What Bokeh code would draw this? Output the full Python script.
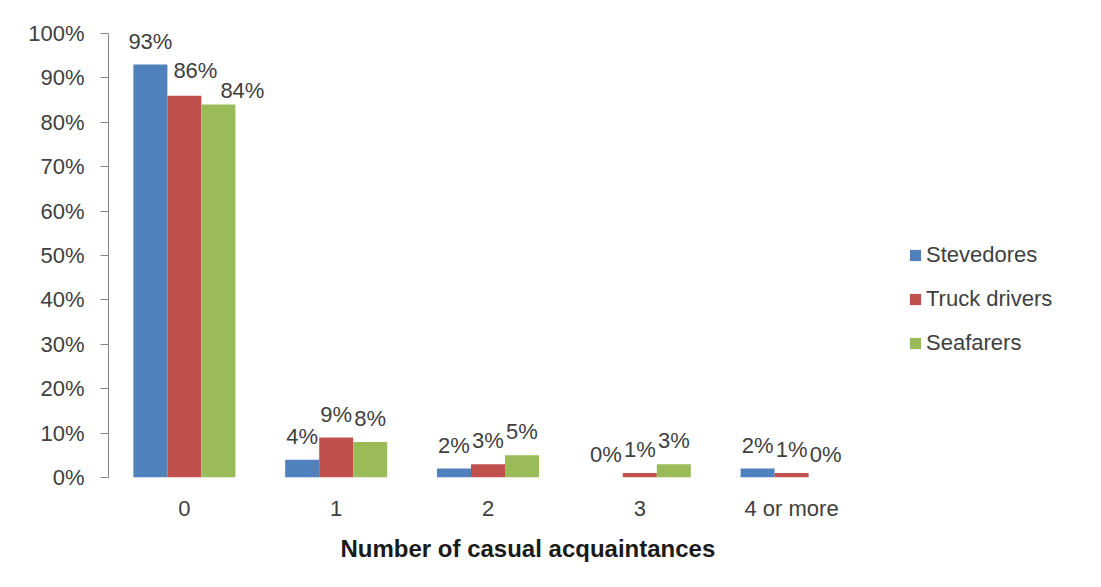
from bokeh.plotting import figure
from bokeh.models import ColumnDataSource, LabelSet, Legend, LegendItem, Range1d, FixedTicker, Title
from bokeh.core.properties import value
from bokeh.embed import file_html
from bokeh.resources import INLINE

categories = ["0", "1", "2", "3", "4 or more"]
series_names = ["Stevedores", "Truck drivers", "Seafarers"]
stevedores = [93, 4, 2, 0, 2]
truck_drivers = [86, 9, 3, 1, 1]
seafarers = [84, 8, 5, 3, 0]
y_ticks = [0, 10, 20, 30, 40, 50, 60, 70, 80, 90, 100]
colors = ["#4F81BD", "#C0504D", "#9BBB59"]

FONT = "Liberation Sans"
TXT = "#404040"
FS = "22px"
bw = 0.224
unit_px = 151.8
frame_w = 985

p = figure(frame_width=frame_w, frame_height=444, output_backend="svg", toolbar_location=None,
           x_range=Range1d(-0.5, -0.5 + frame_w / unit_px), y_range=Range1d(0, 100),
           min_border_left=108, min_border_right=0, min_border_top=33, min_border_bottom=34)
p.xgrid.visible = False
p.ygrid.visible = False
p.outline_line_color = None
p.background_fill_color = "white"
p.border_fill_color = "white"

# x axis
p.xaxis.ticker = FixedTicker(ticks=list(range(len(categories))))
p.xaxis.major_label_overrides = {i: c for i, c in enumerate(categories)}
p.xaxis.axis_line_color = None
p.xaxis.major_tick_line_color = None
p.xaxis.minor_tick_line_color = None
p.xaxis.major_label_standoff = 12
p.xaxis.major_label_text_font = FONT
p.xaxis.major_label_text_font_size = FS
p.xaxis.major_label_text_color = TXT

# y axis
p.yaxis.ticker = FixedTicker(ticks=y_ticks)
p.yaxis.major_label_overrides = {t: f"{t}%" for t in y_ticks}
p.yaxis.axis_line_color = "#868686"
p.yaxis.major_tick_line_color = "#868686"
p.yaxis.major_tick_out = 8
p.yaxis.major_tick_in = 0
p.yaxis.minor_tick_line_color = None
p.yaxis.major_label_standoff = 16
p.yaxis.major_label_text_font = FONT
p.yaxis.major_label_text_font_size = FS
p.yaxis.major_label_text_color = TXT

# axis title, placed where the reference has it
xtitle = Title(text="Number of casual acquaintances", align="left", offset=232,
               text_font=FONT, text_font_style="bold", text_font_size="24px",
               text_color="#1a1a1a", standoff=18)
p.add_layout(xtitle, "below")

# label nudges (px) for crowded labels in first group
nudge_x = {(1, 0): 11, (2, 0): 24}
nudge_y = {(1, 0): 18, (2, 0): 7}

items = []
for j, (name, vals) in enumerate(zip(series_names, [stevedores, truck_drivers, seafarers])):
    xs = [i + (j - 1) * bw for i in range(len(categories))]
    src = ColumnDataSource(dict(
        x=xs, top=vals, label=[f"{v}%" for v in vals],
        dx=[nudge_x.get((j, i), 0) for i in range(len(vals))],
        dy=[nudge_y.get((j, i), 16) for i in range(len(vals))],
    ))
    r = p.vbar(x="x", top="top", bottom=0, width=bw, source=src,
               fill_color=colors[j], line_color=None)
    items.append(LegendItem(label=name, renderers=[r]))
    lbl = LabelSet(x="x", y="top", text="label", source=src, x_offset="dx", y_offset="dy",
                   text_align="center", text_baseline="alphabetic",
                   text_font=value(FONT), text_font_size=value(FS), text_color=TXT)
    p.add_layout(lbl)

legend = Legend(items=items, location=(800, 121))
legend.border_line_color = None
legend.background_fill_alpha = 0
legend.padding = 0
legend.margin = 0
legend.glyph_width = 14
legend.glyph_height = 14
legend.label_height = 24
legend.label_standoff = 4
legend.spacing = 18
legend.label_text_font = FONT
legend.label_text_font_size = FS
legend.label_text_color = TXT
p.add_layout(legend)

open("out.html", "w").write(file_html(p, INLINE))
